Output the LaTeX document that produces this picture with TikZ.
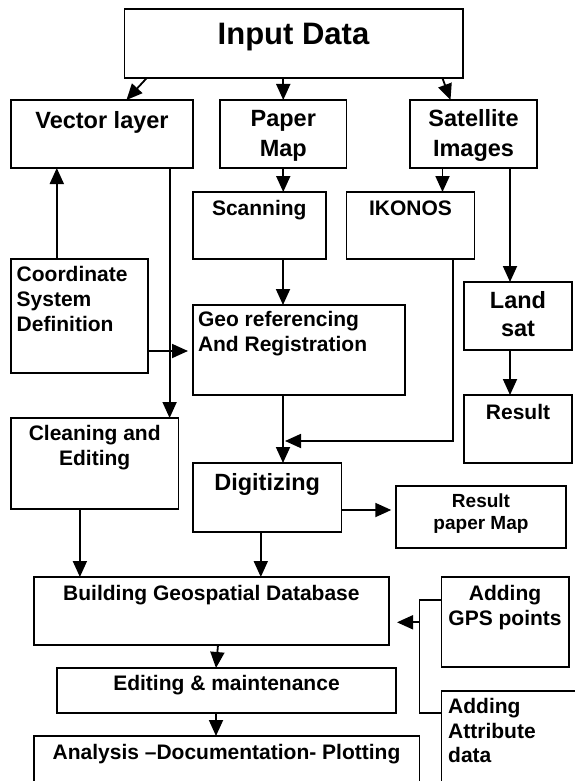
\documentclass[tikz,border=0pt]{standalone}
\usepackage{fontspec}
\setmainfont{Liberation Sans}
\usetikzlibrary{arrows.meta}
\begin{document}
\begin{tikzpicture}[x=1pt,y=-1pt,
  box/.style={draw, line width=1.8pt, inner sep=0pt, outer sep=0pt, anchor=north west},
  conn/.style={line width=1.8pt, -{Triangle[length=16pt,width=14pt]}},
  plain/.style={line width=1.8pt},
  tA/.style={inner sep=0pt, anchor=base, font=\fontsize{31}{36}\selectfont\bfseries},
  tB/.style={inner sep=0pt, anchor=base, font=\fontsize{23.5}{28}\selectfont\bfseries},
  tC/.style={inner sep=0pt, anchor=base, font=\fontsize{21}{25}\selectfont\bfseries},
  tD/.style={inner sep=0pt, anchor=base, font=\fontsize{19}{22}\selectfont\bfseries},
  lw/.style={anchor=base west}]
\useasboundingbox (0,0) rectangle (575,781);
\clip (0,0) rectangle (575,781);
% boxes
\node[box, minimum width=338.1pt, minimum height=69pt] (inp) at (124.5,9.3) {};
\node[box, minimum width=182pt, minimum height=68pt] (vec) at (11,100) {};
\node[box, minimum width=126.5pt, minimum height=68pt] (pap) at (220,100) {};
\node[box, minimum width=127pt, minimum height=68pt] (sat) at (410,100) {};
\node[box, minimum width=132.6pt, minimum height=67pt] (scan) at (193,192) {};
\node[box, minimum width=127.9pt, minimum height=67pt] (iko) at (346.5,192) {};
\node[box, minimum width=136.6pt, minimum height=114pt] (coord) at (11,259) {};
\node[box, minimum width=211.8pt, minimum height=90pt] (geo) at (193,305) {};
\node[box, minimum width=108pt, minimum height=68pt] (land) at (464,282) {};
\node[box, minimum width=108pt, minimum height=68pt] (res) at (464,395) {};
\node[box, minimum width=167.4pt, minimum height=91pt] (clean) at (11,418) {};
\node[box, minimum width=148.4pt, minimum height=69pt] (dig) at (193,463) {};
\node[box, minimum width=169.7pt, minimum height=62pt] (rpm) at (396.3,486) {};
\node[box, minimum width=355.3pt, minimum height=68pt] (build) at (33.7,577) {};
\node[box, minimum width=127.5pt, minimum height=90pt] (gps) at (441.4,577) {};
\node[box, minimum width=339.5pt, minimum height=45pt] (edit) at (56.8,668) {};
\node[box, minimum width=385.7pt, minimum height=64pt] (ana) at (33.7,736) {};
\node[box, minimum width=158.6pt, minimum height=109pt] (attr) at (441.4,691) {};
% texts
\node[tA] (tinp) at (293.5,45) {Input Data};
\node[tB] (tvec) at (102,128.3) {Vector layer};
\node[tB] (tpap1) at (283.25,127) {Paper};
\node[tB] (tpap2) at (283.25,156) {Map};
\node[tB] (tsat1) at (473.5,127) {Satellite};
\node[tB] (tsat2) at (473.5,156) {Images};
\node[tC] (tscan) at (259.3,215) {Scanning};
\node[tC] (tiko) at (410.5,215) {IKONOS};
\node[tC,lw] (tco1) at (16.5,281.7) {Coordinate};
\node[tC,lw] (tco2) at (16.5,306.7) {System};
\node[tC,lw] (tco3) at (16.5,331.7) {Definition};
\node[tC,lw] (tgeo1) at (197.8,326.7) {Geo referencing};
\node[tC,lw] (tgeo2) at (197.8,351.7) {And Registration};
\node[tB] (tland1) at (518,308.3) {Land};
\node[tB] (tland2) at (518,336) {sat};
\node[tC] (tres) at (518,419.3) {Result};
\node[tC] (tcl1) at (94.7,440) {Cleaning and};
\node[tC] (tcl2) at (94.7,465) {Editing};
\node[tB] (tdig) at (267.2,490) {Digitizing};
\node[tD] (trpm1) at (481,507.3) {Result};
\node[tD] (trpm2) at (481,529) {paper Map};
\node[tC] (tbuild) at (211.4,600.7) {Building Geospatial Database};
\node[tC] (tgps1) at (505,600.7) {Adding};
\node[tC] (tgps2) at (505,625) {GPS points};
\node[tC] (tedit) at (226.5,690.7) {Editing \& maintenance};
\node[tC] (tana) at (226.5,759.3) {Analysis –Documentation- Plotting};
\node[tC,lw] (tat1) at (448,713.3) {Adding};
\node[tC,lw] (tat2) at (448,738) {Attribute};
\node[tC,lw] (tat3) at (448,762.7) {data};
% connectors
\draw[conn] ([xshift=22pt]inp.south west) -- ([xshift=115.4pt]vec.north west);
\draw[conn] (inp.south -| pap.north) -- (pap.north);
\draw[conn] ([xshift=318pt]inp.south west) -- ([xshift=40.5pt]sat.north west);
\draw[conn] (pap.south) -- (pap.south |- scan.north);
\draw[conn] ([xshift=32.5pt]sat.south west) -- ([xshift=96pt]iko.north west);
\draw[conn] ([xshift=158.6pt]vec.south west) -- ([xshift=158.6pt]clean.north west);
\draw[conn] ([xshift=45.8pt]coord.north west) -- ([xshift=45.8pt]vec.south west);
\draw[conn] ([xshift=100pt]sat.south west) -- ([xshift=46pt]land.north west);
\draw[conn] ([xshift=46pt]land.south west) -- ([xshift=46pt]res.north west);
\draw[conn] ([xshift=90pt]scan.south west) -- ([xshift=90pt]geo.north west);
\draw[conn, shorten >=5pt] ([yshift=22pt]coord.south east) -- ([yshift=-46pt]geo.north west);
\draw[conn] ([xshift=90pt]geo.south west) -- ([xshift=90pt]dig.north west);
\coordinate (j1) at ([xshift=92pt,yshift=-46pt]geo.south west);
\draw[conn] ([xshift=106.5pt]iko.south west) |- (j1);
\draw[conn, shorten >=5pt] ([yshift=22pt]dig.south east) -- ([yshift=-24pt]rpm.north west);
\draw[conn] ([xshift=68.9pt]clean.south west) -- ([xshift=46.2pt]build.north west);
\draw[conn] ([xshift=67.8pt]dig.south west) -- ([xshift=227.1pt]build.north west);
\coordinate (k1) at ([xshift=-22pt,yshift=-45.3pt]gps.north west);
\draw[plain] ([yshift=-23pt]gps.north west) -- ++(-22pt,0) |- ([yshift=-22pt]attr.north west);
\draw[conn, shorten >=8pt] (k1) -- (k1 -| build.east);
\draw[conn] ([xshift=184.3pt]build.south west) -- ([xshift=159.2pt]edit.north west);
\draw[conn] ([xshift=159.2pt]edit.south west) -- ([xshift=182.3pt]ana.north west);
\end{tikzpicture}
\end{document}
